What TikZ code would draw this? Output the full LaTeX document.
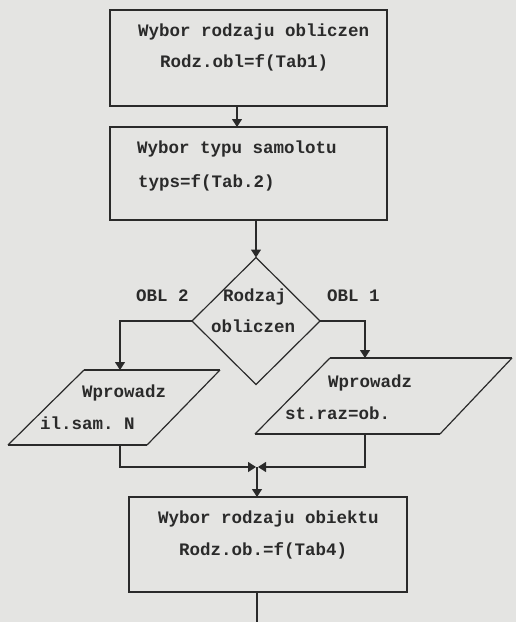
\documentclass[tikz,border=0pt]{standalone}
\usepackage{fontspec}
\setmonofont{Liberation Mono}
\usetikzlibrary{shapes.geometric,arrows.meta}
\definecolor{paper}{HTML}{E4E4E2}
\definecolor{ink}{HTML}{2A2A2A}
\begin{document}
\begin{tikzpicture}[x=1pt,y=-1pt,
  box/.style={draw=ink,line width=2pt,rectangle,inner sep=0pt,outer sep=0pt},
  txt/.style={anchor=base west,inner sep=0pt,text=ink,
    font=\ttfamily\bfseries\fontsize{17.5}{20}\selectfont},
  conn/.style={draw=ink,line width=1.2pt},
  arr/.style={conn,-{Triangle[length=8pt,width=10pt]}},
  thin/.style={draw=ink,line width=1.2pt},
  thick/.style={draw=ink,line width=2pt}]

% page
\fill[paper] (0,0) rectangle (516,622);
\useasboundingbox (0,0) rectangle (516,622);

% process boxes and decision
\node[box,minimum width=277pt,minimum height=96pt] (b1) at (248.5,58) {};
\node[box,minimum width=277pt,minimum height=93pt] (b2) at (248.5,173.5) {};
\node[thin,diamond,minimum width=128pt,minimum height=127pt,
      inner sep=0pt,outer sep=0pt] (dia) at (256,321) {};
\node[box,minimum width=278pt,minimum height=95pt] (b3) at (268,544.5) {};

% input parallelograms
\draw[thin] (84,370) -- (8,445) (220,370) -- (147,445);
\draw[thick] (84,370) -- (220,370) (8,445) -- (147,445);
\draw[thin] (330,358) -- (255,434) (512,358) -- (440,434);
\draw[thick] (330,358) -- (512,358) (255,434) -- (440,434);
\coordinate (lpt) at (120,370);
\coordinate (lpb) at (120,445);
\coordinate (rpt) at (365,358);
\coordinate (rpb) at (365,434);

% texts
\node[txt] (t1) at (138,36.5) {Wybor rodzaju obliczen};
\node[txt] (t2) at (160,67) {Rodz.obl=f(Tab1)};
\node[txt] (t3) at (137,153) {Wybor typu samolotu};
\node[txt] (t4) at (138,187) {typs=f(Tab.2)};
\node[txt] (t5) at (223,301) {Rodzaj};
\node[txt] (t6) at (211,332) {obliczen};
\node[txt] (t7) at (136,301) {OBL 2};
\node[txt] (t8) at (327,301) {OBL 1};
\node[txt] (t9) at (82,397) {Wprowadz};
\node[txt] (t10) at (40,429) {il.sam. N};
\node[txt] (t11) at (328,387) {Wprowadz};
\node[txt] (t12) at (285,419) {st.raz=ob.};
\node[txt] (t13) at (158,523) {Wybor rodzaju obiektu};
\node[txt] (t14) at (179,555) {Rodz.ob.=f(Tab4)};

% connectors
\coordinate (x1) at (237,0);
\draw[arr] (b1.south -| x1) -- (b2.north -| x1);
\draw[arr] (b2.south -| dia.north) -- (dia.north);
\draw[arr] (dia.west) -| (lpt);
\draw[arr] (dia.east) -| (rpt);
\coordinate (j) at (257,467);
\coordinate (jl) at (256,467);
\coordinate (jr) at (258,467);
\draw[arr] (lpb) |- (jl);
\draw[arr] (rpb) |- (jr);
\draw[arr] (j) -- (b3.north -| j);
\coordinate (out) at (257,622);
\draw[conn] (b3.south -| out) -- (out);
\end{tikzpicture}
\end{document}
